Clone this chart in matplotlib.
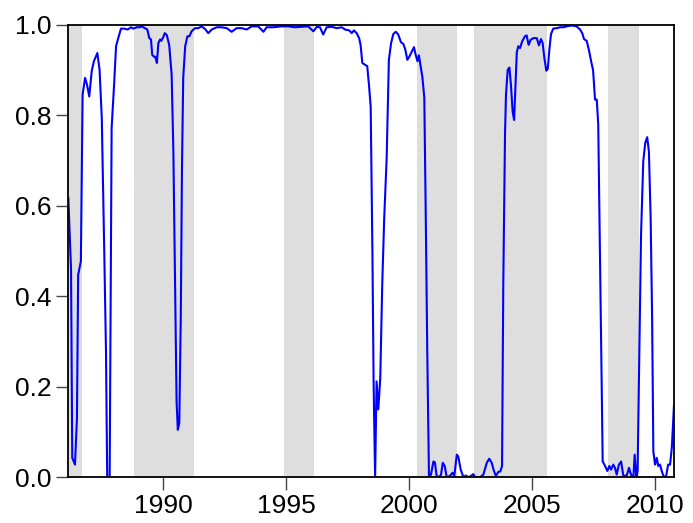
import numpy as np
import matplotlib
matplotlib.use('Agg')
import matplotlib.pyplot as plt

# 读图得到的数据 (年份, 概率)
years = [1986.14, 1986.25, 1986.30, 1986.41, 1986.49, 1986.54, 1986.65, 1986.72, 1986.82, 1986.90,
         1986.99, 1987.09, 1987.18, 1987.32, 1987.41, 1987.50, 1987.60, 1987.67, 1987.72, 1987.82,
         1987.90, 1988.00, 1988.08, 1988.17, 1988.28, 1988.41, 1988.55, 1988.69, 1988.78, 1988.92,
         1989.05, 1989.12, 1989.35, 1989.43, 1989.50, 1989.55, 1989.62, 1989.67, 1989.74, 1989.80,
         1989.87, 1989.92, 1989.98, 1990.06, 1990.14, 1990.24, 1990.34, 1990.41, 1990.48, 1990.54,
         1990.59, 1990.65, 1990.71, 1990.76, 1990.81, 1990.89, 1990.98, 1991.06, 1991.15, 1991.29,
         1991.42, 1991.56, 1991.70, 1991.83, 1991.97, 1992.17, 1992.37, 1992.58, 1992.78, 1992.98,
         1993.19, 1993.39, 1993.59, 1993.86, 1994.07, 1994.20, 1994.47, 1994.81, 1995.08, 1995.35,
         1995.63, 1995.89, 1996.10, 1996.24, 1996.37, 1996.50, 1996.64, 1996.85, 1997.05, 1997.25,
         1997.39, 1997.56, 1997.66, 1997.75, 1997.86, 1997.96, 1998.02, 1998.09, 1998.20, 1998.29,
         1998.36, 1998.43, 1998.50, 1998.55, 1998.61, 1998.67, 1998.74, 1998.82, 1998.90, 1998.98,
         1999.08, 1999.17, 1999.26, 1999.35, 1999.45, 1999.55, 1999.66, 1999.76, 1999.84, 1999.92,
         2000.00, 2000.10, 2000.19, 2000.26, 2000.33, 2000.39, 2000.45, 2000.53, 2000.61, 2000.67,
         2000.73, 2000.80, 2000.88, 2000.98, 2001.04, 2001.11, 2001.21, 2001.29, 2001.36, 2001.44,
         2001.52, 2001.65, 2001.76, 2001.83, 2001.93, 2001.99, 2002.09, 2002.20, 2002.30, 2002.40,
         2002.51, 2002.60, 2002.68, 2002.87, 2003.01, 2003.15, 2003.25, 2003.35, 2003.44, 2003.52,
         2003.62, 2003.70, 2003.77, 2003.82, 2003.89, 2003.93, 2004.00, 2004.07, 2004.13, 2004.20,
         2004.26, 2004.37, 2004.43, 2004.50, 2004.59, 2004.70, 2004.77, 2004.85, 2004.93, 2005.04,
         2005.18, 2005.27, 2005.35, 2005.42, 2005.49, 2005.57, 2005.63, 2005.69, 2005.76, 2005.85,
         2005.99, 2006.13, 2006.26, 2006.40, 2006.60, 2006.80, 2006.94, 2007.03, 2007.10, 2007.21,
         2007.30, 2007.39, 2007.47, 2007.55, 2007.62, 2007.68, 2007.75, 2007.82, 2007.86, 2007.96,
         2008.05, 2008.13, 2008.20, 2008.29, 2008.36, 2008.43, 2008.52, 2008.61, 2008.70, 2008.84,
         2008.93, 2009.01, 2009.11, 2009.16, 2009.23, 2009.28, 2009.35, 2009.42, 2009.51, 2009.59,
         2009.67, 2009.74, 2009.81, 2009.87, 2009.92, 2009.99, 2010.06, 2010.12, 2010.19, 2010.26,
         2010.35, 2010.44, 2010.52, 2010.60, 2010.67, 2010.73, 2010.76]
probs = [0.617, 0.46, 0.043, 0.028, 0.13, 0.448, 0.478, 0.846, 0.883, 0.868,
         0.842, 0.898, 0.92, 0.938, 0.901, 0.794, 0.50, 0.28, 0.0, 0.0,
         0.772, 0.868, 0.953, 0.971, 0.992, 0.992, 0.99, 0.995, 0.992, 0.995,
         0.995, 0.997, 0.99, 0.971, 0.968, 0.934, 0.93, 0.93, 0.916, 0.96,
         0.968, 0.965, 0.971, 0.982, 0.978, 0.956, 0.89, 0.72, 0.426, 0.168,
         0.105, 0.12, 0.352, 0.684, 0.883, 0.953, 0.975, 0.975, 0.986, 0.993,
         0.993, 0.997, 0.991, 0.982, 0.99, 0.995, 0.995, 0.993, 0.985, 0.993,
         0.993, 0.99, 0.997, 0.997, 0.985, 0.995, 0.995, 0.997, 0.997, 0.995,
         0.996, 0.997, 0.986, 0.996, 0.995, 0.979, 0.995, 0.996, 0.993, 0.995,
         0.99, 0.988, 0.982, 0.988, 0.982, 0.971, 0.956, 0.916, 0.912, 0.909,
         0.868, 0.82, 0.50, 0.205, 0.0, 0.212, 0.15, 0.22, 0.426, 0.573,
         0.706, 0.923, 0.96, 0.98, 0.985, 0.979, 0.962, 0.958, 0.945, 0.923,
         0.93, 0.941, 0.951, 0.934, 0.92, 0.933, 0.912, 0.886, 0.839, 0.573,
         0.279, 0.0, 0.006, 0.035, 0.033, 0.003, 0.0, 0.006, 0.032, 0.025,
         0.0, 0.003, 0.01, 0.003, 0.05, 0.046, 0.017, 0.0, 0.004, 0.0,
         0.003, 0.007, 0.0, 0.0, 0.006, 0.032, 0.041, 0.032, 0.014, 0.003,
         0.012, 0.013, 0.025, 0.426, 0.757, 0.846, 0.901, 0.906, 0.868, 0.809,
         0.79, 0.94, 0.953, 0.949, 0.964, 0.975, 0.977, 0.956, 0.967, 0.971,
         0.971, 0.955, 0.969, 0.96, 0.927, 0.899, 0.903, 0.944, 0.98, 0.992,
         0.993, 0.995, 0.995, 0.997, 0.999, 0.997, 0.99, 0.982, 0.969, 0.965,
         0.945, 0.92, 0.90, 0.835, 0.835, 0.78, 0.50, 0.205, 0.035, 0.025,
         0.014, 0.025, 0.017, 0.028, 0.021, 0.006, 0.028, 0.035, 0.003, 0.004,
         0.021, 0.006, 0.0, 0.05, 0.0, 0.014, 0.279, 0.536, 0.699, 0.739,
         0.752, 0.72, 0.573, 0.352, 0.057, 0.028, 0.043, 0.025, 0.028, 0.014,
         0.0, 0.003, 0.028, 0.028, 0.065, 0.131, 0.16]

# 阴影区间
shade_start = [1986.14, 1988.81, 1994.91, 2000.31, 2002.64, 2008.07]
shade_end = [1986.68, 1991.26, 1996.11, 2001.93, 2005.58, 2009.33]

x_ticks = [1990, 1995, 2000, 2005, 2010]
y_ticks = [0.0, 0.2, 0.4, 0.6, 0.8, 1.0]

plt.rcParams['font.family'] = ['Liberation Sans', 'DejaVu Sans']

fig = plt.figure(figsize=(6.93, 5.23), dpi=100)
ax = fig.add_axes([0.0986, 0.0874, 0.874, 0.8648])

for s, e in zip(shade_start, shade_end):
    ax.axvspan(s, e, color='#dedede', lw=0, zorder=0)

ax.plot(years, probs, color='#0000ff', lw=1.5, zorder=2)

ax.set_xlim(1986.14, 2010.76)
ax.set_ylim(0, 1)
ax.set_xticks(x_ticks)
ax.set_yticks(y_ticks)
ax.set_yticklabels(['%.1f' % v for v in y_ticks])
ax.tick_params(axis='both', direction='out', length=9, width=1, color='#444444',
               labelsize=19, pad=3)
for sp in ax.spines.values():
    sp.set_linewidth(1.3)
    sp.set_color('black')

fig.savefig('out.png', dpi=100)
